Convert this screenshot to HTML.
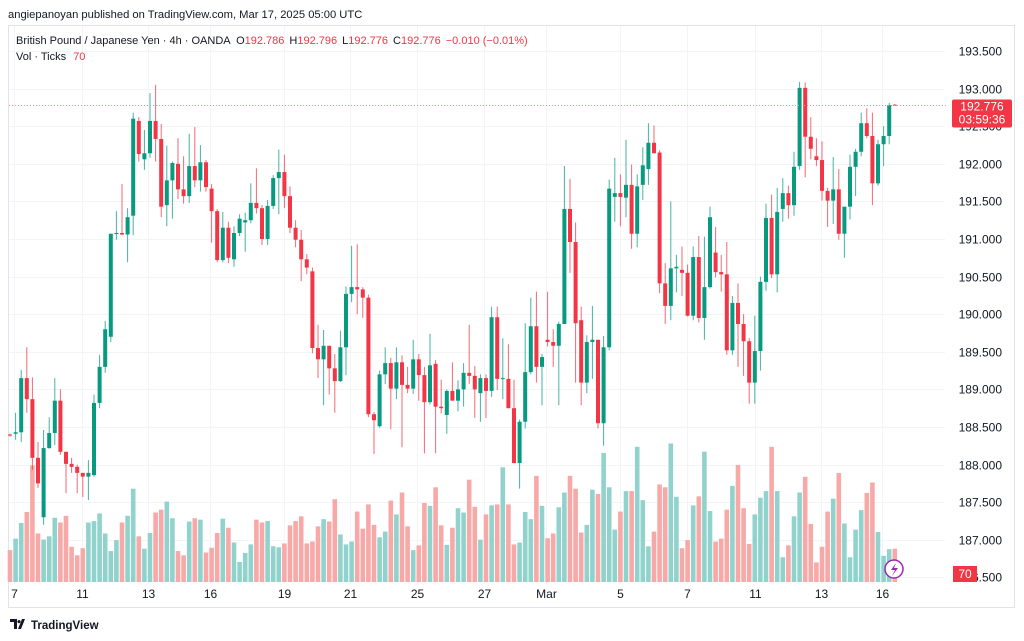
<!DOCTYPE html>
<html><head><meta charset="utf-8">
<style>
html,body{margin:0;padding:0;background:#fff;}
body{width:1024px;height:641px;overflow:hidden;font-family:"Liberation Sans",sans-serif;}
svg{display:block}
</style></head>
<body>
<svg id="chart" width="1024" height="641" viewBox="0 0 1024 641" xmlns="http://www.w3.org/2000/svg">
  <rect x="0" y="0" width="1024" height="641" fill="#ffffff"/>
  <text x="8" y="18" font-size="11.2" fill="#131722" font-family="Liberation Sans, sans-serif">angiepanoyan published on TradingView.com, Mar 17, 2025 05:00 UTC</text>
  <rect x="8.5" y="25.5" width="1006" height="582" fill="none" stroke="#e0e3eb"/>
  <g id="grid"></g>
  <g id="vol"></g>
  <g id="candles"></g>
  <g id="axes"></g>
  <g font-size="11" font-family="Liberation Sans, sans-serif">
    <text x="16" y="44" fill="#131722">British Pound / Japanese Yen · 4h · OANDA <tspan dx="3">O</tspan><tspan fill="#F23645">192.786</tspan><tspan dx="5">H</tspan><tspan fill="#F23645">192.796</tspan><tspan dx="5">L</tspan><tspan fill="#F23645">192.776</tspan><tspan dx="5">C</tspan><tspan fill="#F23645">192.776</tspan><tspan dx="5" fill="#F23645">−0.010 (−0.01%)</tspan></text>
    <text x="16" y="60" fill="#131722">Vol · Ticks <tspan dx="4" fill="#F23645">70</tspan></text>
  </g>
  <g>
    <path d="M10 619 h7 v10 h-3 v-7 h-4z M18 629 l4 -10 h3 l-4 10z M19 620 a1.6 1.6 0 1 0 0.01 0" fill="#131722"/>
    <text x="31" y="629" font-size="11.5" font-weight="bold" fill="#131722">TradingView</text>
  </g>
</svg>
<script>
const opens=[188.40,188.41,188.43,189.15,188.87,188.09,187.30,188.22,188.42,188.85,188.17,188.01,187.97,187.89,187.84,187.86,188.82,189.30,189.70,191.07,191.08,191.06,191.31,192.57,192.06,192.14,192.57,192.33,191.45,191.78,192.00,191.66,191.57,191.97,191.78,192.02,191.67,191.37,190.72,191.15,190.73,191.08,191.22,191.25,191.48,191.41,191.00,191.44,191.81,191.89,191.57,191.15,190.99,190.73,190.57,189.55,189.40,189.58,189.28,189.11,189.56,190.27,190.36,190.33,190.22,188.67,188.51,189.20,189.35,189.01,189.36,189.06,189.01,189.40,189.19,188.83,189.34,188.77,188.66,188.98,188.85,189.00,189.22,189.18,188.95,189.15,188.98,189.96,189.14,189.14,188.75,188.02,188.57,189.23,189.84,189.30,189.66,189.63,189.58,189.87,191.40,190.96,189.92,189.09,189.63,189.66,188.55,189.56,191.56,191.61,191.55,191.72,191.07,191.72,191.93,192.28,192.15,190.41,190.11,190.61,190.59,190.55,189.98,190.76,189.95,190.36,190.82,190.56,190.53,189.52,190.15,189.87,189.64,189.09,189.51,190.43,191.28,190.53,191.40,191.61,191.45,191.97,193.01,192.36,192.10,192.05,191.64,191.51,191.66,191.07,191.43,191.96,192.16,192.54,192.37,191.74,192.26,192.37,192.786];
const highs=[188.41,188.69,189.26,189.56,189.16,188.30,188.46,188.63,189.15,189.00,188.17,188.09,188.00,187.89,188.06,188.93,189.46,189.91,191.07,191.37,191.73,191.41,192.68,192.62,192.45,192.94,193.05,192.53,192.24,192.03,192.34,192.10,192.40,192.49,192.25,192.05,191.73,191.40,191.36,191.23,191.17,191.33,191.35,191.74,191.94,191.45,191.52,191.85,192.19,192.12,191.70,191.25,191.12,190.80,190.62,189.86,189.79,189.58,189.47,189.78,190.37,190.91,190.93,190.36,190.26,188.70,189.25,189.56,189.42,189.56,189.45,189.30,189.66,189.47,189.30,189.74,189.39,189.13,189.00,189.36,189.12,189.35,189.86,189.31,189.20,189.20,190.10,190.10,189.68,189.60,189.13,188.60,189.88,190.22,190.30,189.47,190.30,189.80,189.90,191.97,191.80,191.22,190.10,189.72,190.11,189.66,189.71,191.79,192.08,191.86,192.32,191.99,191.86,192.22,192.54,192.51,192.18,190.68,191.50,190.79,190.90,190.66,190.90,191.04,191.03,191.43,191.16,190.79,190.96,190.24,190.41,190.00,189.68,189.98,190.50,191.47,191.59,191.68,191.81,191.71,192.16,193.09,193.08,192.62,192.34,192.30,191.68,192.09,191.93,191.22,192.12,192.20,192.68,192.74,192.68,192.32,192.50,192.81,192.796];
const lows=[188.37,188.33,188.30,188.69,187.93,187.69,187.20,188.21,188.26,188.13,187.62,187.89,187.62,187.57,187.53,187.84,188.75,189.22,189.63,190.99,191.05,190.69,191.05,192.03,191.92,192.08,192.03,191.29,191.17,191.27,191.53,191.47,191.48,191.69,191.63,191.63,190.95,190.69,190.69,190.68,190.63,191.04,190.83,191.21,191.34,190.92,190.92,191.40,191.33,191.41,191.08,190.89,190.44,190.53,189.48,189.15,188.79,188.93,188.69,189.10,189.19,190.16,190.00,189.95,188.63,188.14,188.49,189.07,188.47,188.87,188.23,188.95,188.94,188.85,188.15,188.80,188.15,188.68,188.41,188.88,188.71,188.77,189.07,188.62,188.57,188.62,188.90,188.99,188.87,188.75,188.02,187.68,188.48,189.20,189.09,188.79,189.57,189.30,188.79,189.87,190.55,189.09,188.79,188.95,189.14,188.48,188.25,189.52,191.23,191.17,191.29,190.87,190.89,191.52,191.72,192.14,190.28,189.87,189.92,190.29,190.24,189.97,189.92,189.89,189.66,190.34,190.49,190.30,189.46,189.46,189.30,189.18,188.81,188.81,189.25,190.31,190.48,190.29,191.23,191.27,191.31,191.92,191.82,192.06,191.97,191.51,191.16,191.20,190.99,190.75,191.26,191.57,192.10,192.34,191.45,191.71,191.97,192.26,192.776];
const closes=[188.39,188.43,189.15,188.87,188.09,187.75,188.22,188.42,188.85,188.17,188.01,187.97,187.89,187.84,187.89,188.82,189.30,189.80,191.07,191.08,191.06,191.29,192.60,192.13,192.14,192.57,192.33,191.43,191.78,192.01,191.66,191.57,191.97,191.78,192.02,191.69,191.37,190.72,191.15,190.75,191.08,191.27,191.25,191.48,191.41,191.00,191.44,191.81,191.89,191.57,191.15,190.99,190.73,190.62,189.55,189.40,189.58,189.28,189.11,189.56,190.27,190.36,190.33,190.22,188.67,188.59,189.20,189.35,189.01,189.36,189.06,189.01,189.40,189.19,188.83,189.32,188.77,188.75,188.98,188.85,189.00,189.22,189.18,189.00,189.15,188.98,189.96,189.14,189.15,188.75,188.02,188.57,189.23,189.84,189.30,189.43,189.63,189.58,189.87,191.40,190.96,189.88,189.09,189.63,189.66,188.55,189.56,191.67,191.61,191.56,191.72,191.07,191.70,191.98,192.28,192.14,190.41,190.11,190.61,190.63,190.55,189.98,190.76,189.95,190.36,191.29,190.56,190.53,189.52,190.15,189.87,189.64,189.09,189.51,190.43,191.28,190.53,191.36,191.61,191.45,191.96,193.01,192.36,192.20,192.05,191.64,191.51,191.66,191.07,191.43,191.96,192.16,192.54,192.37,191.74,192.26,192.37,192.78,192.776];
const volumes=[67,91,124,147,245,102,89,96,135,125,139,74,56,71,125,128,144,102,65,88,125,139,196,96,70,103,146,152,169,134,65,56,127,134,131,62,72,103,133,114,83,42,61,79,131,125,128,75,73,81,119,128,138,81,85,117,132,127,174,100,79,85,148,112,163,120,94,106,171,142,188,117,67,77,166,160,199,119,78,114,155,146,215,158,89,142,161,163,241,163,79,83,147,132,223,160,92,102,157,188,223,196,104,120,194,185,271,199,110,148,191,191,284,172,75,106,205,199,291,179,71,88,161,180,274,149,85,91,152,202,246,155,80,142,177,191,284,191,52,77,138,188,221,122,41,74,148,175,229,123,52,110,151,187,209,105,55,69,70];
const priceTicks=[193.5,193.0,192.5,192.0,191.5,191.0,190.5,190.0,189.5,189.0,188.5,188.0,187.5,187.0,186.5];
const xLabels=["7","11","13","16","19","21","25","27","Mar","5","7","11","13","16"];
const xLabelIdx=[0.7,12.9,24.6,35.7,49,60.7,72.7,84.6,95.7,108.9,120.9,133,144.8,155.7];
const lastPrice=192.776;

const NS="http://www.w3.org/2000/svg";
const xS=i=>10+i*5.6;
const yS=p=>51+(193.5-p)*75.2;
const vS=v=>v*0.476;
const VBASE=582;
function mk(tag,attrs,parent){const e=document.createElementNS(NS,tag);for(const k in attrs)e.setAttribute(k,attrs[k]);parent.appendChild(e);return e;}
const grid=document.getElementById('grid'),vol=document.getElementById('vol'),cg=document.getElementById('candles'),ax=document.getElementById('axes');

priceTicks.forEach(p=>{
  const y=Math.round(yS(p))+0.5;
  const l=mk('line',{x1:9,x2:945,y1:y,y2:y,stroke:'#f3f4f8'},grid);
  
  
  const t=mk('text',{x:1002,y:y+4,'text-anchor':'end','font-size':12,fill:'#131722','font-family':'Liberation Sans, sans-serif'},ax);
  t.textContent=p.toFixed(3);
  
  
});
xLabels.forEach((lb,k)=>{
  const x=Math.round(xS(xLabelIdx[k]))+0.5;
  const l=mk('line',{x1:x,x2:x,y1:26,y2:584,stroke:'#f3f4f8'},grid);
  
  
  const t=mk('text',{x:x,y:598,'text-anchor':'middle','font-size':12,fill:'#131722','font-family':'Liberation Sans, sans-serif'},ax);
  t.textContent=lb;
  
  
});

volumes.forEach((v,i)=>{
  const up=closes[i]>=opens[i];
  const h=vS(v);
  const r=mk('rect',{x:xS(i)-2.3,y:VBASE-h,width:4.6,height:h,fill:up?'#92d2cc':'#f7a9a7'},vol);
  
  
});

closes.forEach((c,i)=>{
  const o=opens[i],up=c>=o,col=up?'#089981':'#F23645';
  const x=xS(i);
  const g=mk('g',{},cg);
  
  
  mk('line',{x1:x,x2:x,y1:yS(highs[i]),y2:yS(lows[i]),stroke:col,'stroke-width':1,opacity:0.75},g);
  const top=yS(Math.max(o,c)),bot=yS(Math.min(o,c));
  mk('rect',{x:x-2,y:top,width:4,height:Math.max(1,bot-top),fill:col},g);
});

const ly=yS(lastPrice);
const dl=mk('line',{x1:9,x2:948,y1:ly,y2:ly,stroke:'#f58a93','stroke-width':1,'stroke-dasharray':'1,2'},ax);


const pb=mk('g',{},ax);


mk('rect',{x:952,y:ly-6,width:60,height:28,rx:2,fill:'#F23645'},pb);
const t1=mk('text',{x:982,y:ly+5,'text-anchor':'middle','font-size':12,fill:'#fff','font-family':'Liberation Sans, sans-serif'},pb);
t1.textContent=lastPrice.toFixed(3);
const t2=mk('text',{x:982,y:ly+18,'text-anchor':'middle','font-size':12,fill:'#fff','font-family':'Liberation Sans, sans-serif'},pb);
t2.textContent='03:59:36';
const vb=mk('g',{},ax);


mk('rect',{x:953,y:566,width:24,height:16,fill:'#F23645'},vb);
const vt=mk('text',{x:965,y:578,'text-anchor':'middle','font-size':12,fill:'#fff','font-family':'Liberation Sans, sans-serif'},vb);
vt.textContent=volumes[volumes.length-1];
const ic=mk('g',{},ax);


mk('circle',{cx:894,cy:569,r:9,fill:'#fff',stroke:'#9c27b0','stroke-width':1.5},ic);
mk('path',{d:'M896 563 l-5 7 h4 l-3 6 l6 -8 h-4z',fill:'#9c27b0'},ic);
</script>
</body></html>
